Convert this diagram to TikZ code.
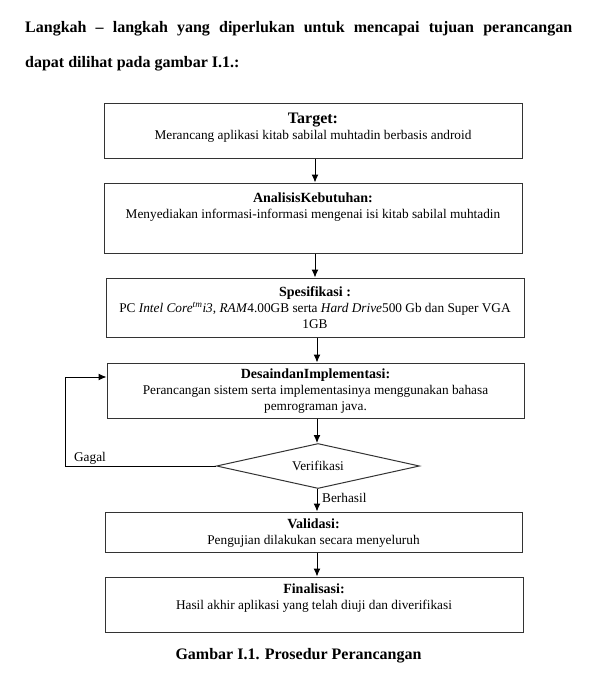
\documentclass[tikz,border=0pt]{standalone}
\usepackage{fontspec}
\setmainfont{Liberation Serif}
\usetikzlibrary{arrows.meta,shapes.geometric}
\tikzset{
  box/.style={draw=black!80, line width=1pt, inner sep=0pt},
  txt/.style={inner sep=0pt, align=center, font=\fontsize{13.3}{16}\selectfont},
  arr/.style={draw=black, line width=1pt, -{Latex[length=8pt,width=7pt]}},
  lbl/.style={inner sep=0pt, font=\fontsize{13.3}{16}\selectfont},
  hdr/.style={anchor=base west, inner sep=0pt, font=\fontsize{16}{19}\selectfont\bfseries},
}
\newcommand{\ttlfont}{\fontsize{14}{16}\selectfont\bfseries}
\begin{document}
\begin{tikzpicture}[x=1pt,y=-1pt]
\useasboundingbox[fill=white] (0,0) rectangle (595,690);
% header
\node[hdr] (h1) at (25,33)
  {\makebox[547pt][s]{Langkah -- langkah yang diperlukan untuk mencapai tujuan perancangan}};
\node[hdr] (h2) at (25,68) {dapat dilihat pada gambar I.1.:};
% boxes
\node[box, minimum width=418pt, minimum height=54pt] (b1) at (313,131) {};
\node[box, minimum width=418pt, minimum height=70pt] (b2) at (313,218) {};
\node[box, minimum width=418pt, minimum height=59pt] (b3) at (315,307.5) {};
\node[box, minimum width=417pt, minimum height=55pt] (b4) at (315.5,390.5) {};
\node[box, diamond, minimum width=203pt, minimum height=45pt] (d) at (318,466) {};
\node[box, minimum width=417pt, minimum height=40pt] (b5) at (313.5,532) {};
\node[box, minimum width=418pt, minimum height=55pt] (b6) at (314,604.5) {};
% texts
\node[txt] (t1) at (313,127.5) {{\fontsize{16}{18}\selectfont\bfseries Target:}\\Merancang aplikasi kitab sabilal muhtadin berbasis android};
\node[txt] (t2) at (313,207) {{\ttlfont AnalisisKebutuhan:}\\Menyediakan informasi-informasi mengenai isi kitab sabilal muhtadin};
\node[txt] (t3) at (315,308) {{\ttlfont Spesifikasi :}\\PC \textit{Intel Core}\textsuperscript{\textit{tm}}\textit{i3}, \textit{RAM}4.00GB serta \textit{Hard Drive}500 Gb dan Super VGA\\1GB};
\node[txt] (t4) at (315.5,391.5) {{\ttlfont DesaindanImplementasi:}\\Perancangan sistem serta implementasinya menggunakan bahasa\\pemrograman java.};
\node[txt] (tv) at (318,466) {Verifikasi};
\node[txt] (t5) at (313.5,533) {{\ttlfont Validasi:}\\Pengujian dilakukan secara menyeluruh};
\node[txt] (t6) at (314,598.5) {{\ttlfont Finalisasi:}\\Hasil akhir aplikasi yang telah diuji dan diverifikasi};
% labels
\node[lbl] (lg) at (90,458) {Gagal};
\node[lbl, anchor=west] (lb) at (322,498) {Berhasil};
% caption
\node[anchor=base, inner sep=0pt, font=\fontsize{16}{19}\selectfont\bfseries] (cap) at (298.5,659) {Gambar I.1. Prosedur Perancangan};
% connectors
\draw[arr] (b1.south -| 315,0) -- (b2.north -| 315,0);
\draw[arr] (b2.south -| 315,0) -- (b3.north -| 315,0);
\draw[arr] (b3.south -| 317,0) -- (b4.north -| 317,0);
\draw[arr] (b4.south -| 317,0) -- (d.north -| 317,0);
\draw[arr] (d.south -| 317,0) -- (b5.north -| 317,0);
\draw[arr] (b5.south -| 317,0) -- (b6.north -| 317,0);
\coordinate (g) at (65,377);
\draw[arr] (d.west) -| (g) -- (b4.west |- g);
\end{tikzpicture}
\end{document}
